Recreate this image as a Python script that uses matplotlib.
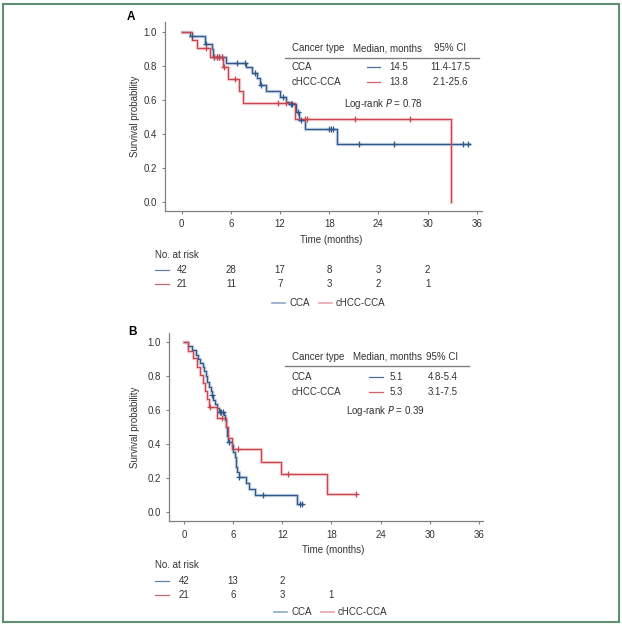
import numpy as np
import matplotlib
matplotlib.use("Agg")
import matplotlib.pyplot as plt
import matplotlib.transforms as mtransforms
from matplotlib.lines import Line2D
from matplotlib.patches import Rectangle

plt.rcParams['font.family'] = ['Liberation Sans', 'DejaVu Sans']
plt.rcParams['font.size'] = 7

# ---- panel A data (event times, survival after each event, censor times)
a_cca_t = [1.0, 2.9, 3.66, 3.8, 5.4, 7.85, 8.54, 9.15, 9.56, 10.3, 12.0, 12.7, 13.1, 13.9, 14.36, 15.05, 19.0]
a_cca_s = [0.976, 0.93, 0.90, 0.856, 0.82, 0.793, 0.762, 0.73, 0.689, 0.653, 0.616, 0.587, 0.575, 0.531, 0.482, 0.429, 0.34]
a_cca_c = [1.3, 3.0, 3.9, 4.27, 4.59, 4.95, 6.79, 7.69, 8.95, 9.7, 12.4, 13.3, 13.5, 14.2, 14.5,
           18.0, 18.2, 18.5, 21.6, 25.9, 34.3, 34.9]
a_cca_end = 35.0

a_hcc_t = [1.2, 1.9, 3.46, 5.0, 5.6, 6.96, 7.45, 13.83, 32.9]
a_hcc_s = [0.952, 0.905, 0.856, 0.797, 0.726, 0.656, 0.58, 0.488, 0.0]
a_hcc_c = [2.97, 3.9, 4.27, 4.59, 4.93, 5.17, 6.5, 11.7, 12.7, 15.0, 15.25, 21.2, 27.8]
a_hcc_end = 32.9

a_median = ["14.5", "13.8"]
a_ci = ["11.4-17.5", "2.1-25.6"]
a_p = "0.78"
a_risk_cca = [42, 28, 17, 8, 3, 2]
a_risk_hcc = [21, 11, 7, 3, 2, 1]

# ---- panel B data
b_cca_t = [0.53, 0.96, 1.46, 1.75, 1.95, 2.28, 2.48, 2.68, 2.85, 3.05, 3.26, 3.38, 3.58, 3.78, 3.99,
           4.31, 4.92, 5.0, 5.08, 5.2, 5.3, 5.38, 5.8, 6.0, 6.2, 6.3, 6.4, 6.5, 6.65, 7.57, 7.97, 8.66, 13.8]
b_cca_s = [0.98, 0.955, 0.925, 0.90, 0.876, 0.856, 0.831, 0.803, 0.768, 0.739, 0.713, 0.69, 0.66, 0.634, 0.615,
           0.592, 0.572, 0.542, 0.503, 0.474, 0.445, 0.414, 0.395, 0.355, 0.326, 0.296, 0.267, 0.237, 0.208,
           0.173, 0.136, 0.10, 0.047]
b_cca_c = [3.45, 4.35, 4.55, 4.75, 5.45, 6.75, 9.6, 14.2, 14.35]
b_cca_end = 14.4

b_hcc_t = [0.45, 1.06, 1.63, 1.95, 2.28, 2.6, 2.85, 3.1, 4.0, 5.13, 5.33, 5.82, 9.4, 11.8, 17.5]
b_hcc_s = [0.952, 0.905, 0.857, 0.81, 0.762, 0.714, 0.667, 0.619, 0.557, 0.50, 0.434, 0.371, 0.296, 0.224, 0.106]
b_hcc_c = [3.2, 4.6, 6.63, 12.7, 21.0]
b_hcc_end = 21.0

b_median = ["5.1", "5.3"]
b_ci = ["4.8-5.4", "3.1-7.5"]
b_p = "0.39"
b_risk_cca = [42, 13, 2]
b_risk_hcc = [21, 6, 3, 1]

groups = ["CCA", "cHCC-CCA"]
risk_ticks = [0, 6, 12, 18, 24, 30, 36]

BLUE, BLUE_L = '#2f5888', '#8ea8c8'
RED, RED_L = '#c8464f', '#e8a4a8'
GREY = '#808080'
TXT = '#333333'

W, H = 622, 626
fig = plt.figure(figsize=(W / 100, H / 100), dpi=100)


def fx(x):
    return x / W


def fy(y):
    return 1 - y / H


def km(ax, t, s, c, end, col, col_l):
    tt = np.array([0.0] + list(t) + [end])
    ss = np.array([1.0] + list(s) + [s[-1]])
    ax.step(tt, ss, where='post', color=col_l, lw=2.4, alpha=0.6, zorder=2)
    ax.step(tt, ss, where='post', color=col, lw=0.8, zorder=3)
    idx = np.searchsorted(tt[:-1], c, side='right') - 1
    ax.plot(c, ss[idx], ls='none', marker='+', ms=4, mew=0.9, color=col, zorder=4)


def box_px_top(box):
    return (1 - box[1] - box[3]) * H


def box_px_bot(box):
    return (1 - box[1]) * H


def panel(box, xl, yl, label, lab_xy, curves, med, ci, p, tab, risks, risk_y, leg_y, xlab_xy):
    ax = fig.add_axes(box)
    for t, s, c, end, col, col_l in curves:
        km(ax, t, s, c, end, col, col_l)
    ax.set_xlim(*xl)
    ax.set_ylim(*yl)
    ax.set_xticks(risk_ticks)
    ax.set_yticks([0, 0.2, 0.4, 0.6, 0.8, 1.0])
    ax.set_yticklabels(['0.0', '0.2', '0.4', '0.6', '0.8', '1.0'])
    for sp in ['top', 'right']:
        ax.spines[sp].set_visible(False)
    for sp in ['left', 'bottom']:
        ax.spines[sp].set_color(GREY)
        ax.spines[sp].set_linewidth(0.9)
    ax.tick_params(length=2.5, width=0.8, color=GREY, labelcolor=TXT, labelsize=7, pad=3.5)

    fig.text(fx(lab_xy[0]), fy(lab_xy[1]), label, fontsize=8.5, fontweight='bold', ha='left', va='center')
    fig.text(fx(135), fy((box_px_top(box) + box_px_bot(box)) / 2), 'Survival probability',
             rotation=90, ha='center', va='center', color=TXT)
    fig.text(fx(xlab_xy[0]), fy(xlab_xy[1]), 'Time (months)', ha='center', va='center', color=TXT)

    # summary table
    hx, hy, line_x1, line_y, row_y, samp, val_x, ci_x, ci_ha, lr = tab
    fig.text(fx(hx[0]), fy(hy), 'Cancer type', ha='left', va='center', color=TXT)
    fig.text(fx(hx[1]), fy(hy), 'Median, months', ha='left', va='center', color=TXT)
    fig.text(fx(hx[2]), fy(hy), '95% CI', ha='left', va='center', color=TXT)
    fig.add_artist(Line2D([fx(285), fx(line_x1)], [fy(line_y)] * 2, color=GREY, lw=1.0))
    for i, (g, col) in enumerate(zip(groups, [BLUE, RED])):
        fig.text(fx(hx[0]), fy(row_y[i]), g, ha='left', va='center', color=TXT)
        fig.add_artist(Line2D([fx(samp[0]), fx(samp[1])], [fy(row_y[i])] * 2, color=col, lw=0.9, alpha=0.85))
        fig.text(fx(val_x), fy(row_y[i]), med[i], ha='left', va='center', color=TXT)
        fig.text(fx(ci_x), fy(row_y[i]), ci[i], ha=ci_ha, va='center', color=TXT)
    fig.text(fx(lr[0]), fy(lr[1]), 'Log-rank $\\it{P}$ = ' + p, ha='left', va='center', color=TXT)

    # number at risk
    fig.text(fx(155), fy(risk_y[0]), 'No. at risk', ha='left', va='center', color=TXT)
    trans = mtransforms.blended_transform_factory(ax.transData, fig.transFigure)
    for r, (vals, col) in enumerate(zip(risks, ['#5f80aa', '#c66a70'])):
        yy = fy(risk_y[r + 1])
        fig.add_artist(Line2D([fx(155), fx(168.5)], [yy, yy], color=col, lw=0.9))
        for tk, v in zip(risk_ticks, vals):
            fig.text(tk, yy, str(v), transform=trans, ha='center', va='center', color=TXT)

    # legend
    for (x0, x1, xt), g, col in zip([(272, 285, 289), (319, 332, 336)], groups, [BLUE_L, RED_L]):
        xo = leg_y[1]
        fig.add_artist(Line2D([fx(x0 + xo), fx(x1 + xo)], [fy(leg_y[0])] * 2, color=col, lw=1.2))
        fig.text(fx(xt + xo), fy(leg_y[0]), g, ha='left', va='center', color=TXT)
    return ax


# panel A
panel([165 / W, 1 - 211 / H, 317 / W, 189 / H], (-2.04, 36.64), (-0.055, 1.061), 'A', (127, 17),
      [(a_cca_t, a_cca_s, a_cca_c, a_cca_end, BLUE, BLUE_L),
       (a_hcc_t, a_hcc_s, a_hcc_c, a_hcc_end, RED, RED_L)],
      a_median, a_ci, a_p,
      ((291.5, 352.5, 433.5), 48.3, 479, 57.7, (66.7, 82.3), (367, 380), 389.5, 450, 'center', (344, 104)),
      [a_risk_cca, a_risk_hcc], (255, 270, 284), (302.5, 0), (331, 240))

# panel B
panel([169.3 / W, 1 - 521.3 / H, 313.7 / W, 188.6 / H], (-1.8, 36.5), (-0.055, 1.057), 'B', (128, 332),
      [(b_cca_t, b_cca_s, b_cca_c, b_cca_end, BLUE, BLUE_L),
       (b_hcc_t, b_hcc_s, b_hcc_c, b_hcc_end, RED, RED_L)],
      b_median, b_ci, b_p,
      ((292, 352.5, 426.5), 356.7, 469.5, 366, (376.7, 391.7), (369, 383), 389.5, 427.5, 'left', (346, 410.5)),
      [b_risk_cca, b_risk_hcc], (565, 580.5, 594.5), (612.3, 2), (333, 550))

fig.add_artist(Rectangle((fx(3), fy(622)), 616 / W, 618 / H, transform=fig.transFigure,
                         fill=False, ec='#5e8f70', lw=1.5))

fig.savefig('out.png', dpi=100)
